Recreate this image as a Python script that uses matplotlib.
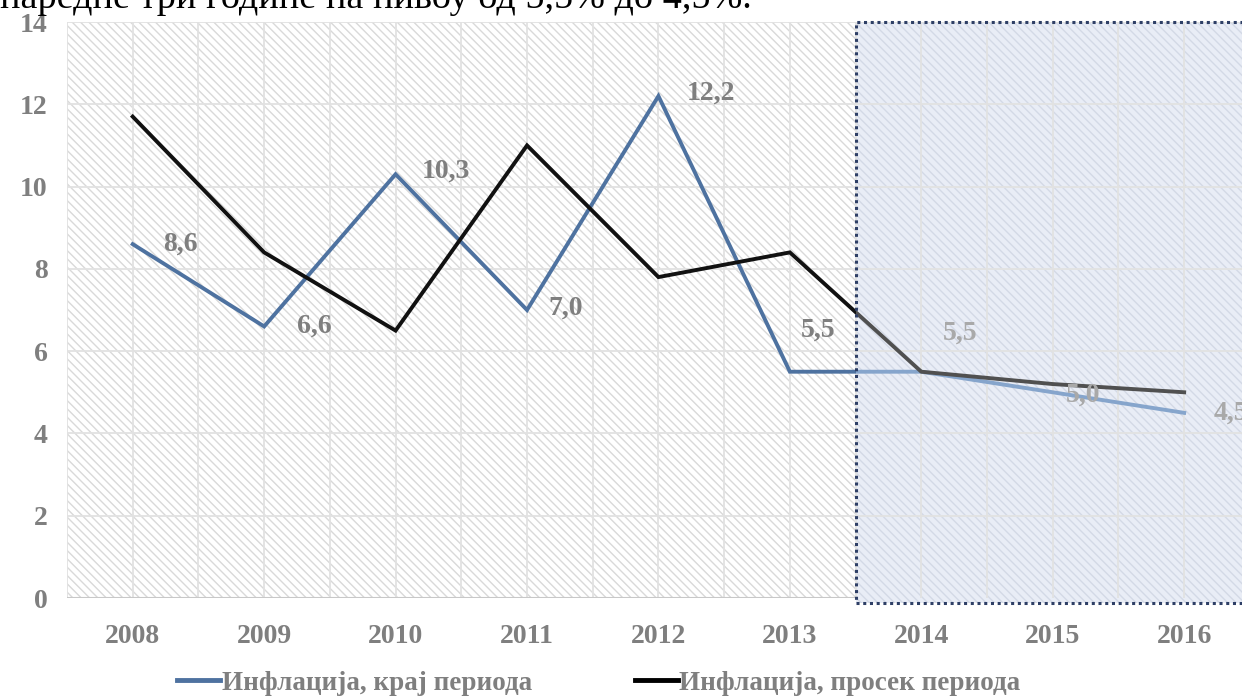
import numpy as np
import matplotlib.pyplot as plt
from matplotlib.patches import Rectangle
from matplotlib.lines import Line2D

# Data
years = ['2008', '2009', '2010', '2011', '2012', '2013', '2014', '2015', '2016']
end_period = [8.6, 6.6, 10.3, 7.0, 12.2, 5.5, 5.5, 5.0, 4.5]
avg_period = [11.7, 8.4, 6.5, 11.0, 7.8, 8.4, 5.5, 5.2, 5.0]
end_labels = ['8,6', '6,6', '10,3', '7,0', '12,2', '5,5', '5,5', '5,0', '4,5']
legend_labels = ['Инфлација, крај периода', 'Инфлација, просек периода']
y_ticks = [0, 2, 4, 6, 8, 10, 12, 14]

serif = ['Liberation Serif', 'DejaVu Serif']
plt.rcParams['hatch.linewidth'] = 1.0

fig = plt.figure(figsize=(12.42, 6.98), dpi=100)
ax = fig.add_axes([67 / 1242, 100 / 698, 1175 / 1242, 576 / 698])
x = np.arange(len(years))
split = 5.5
xmax = 8.44

ax.set_xlim(-0.5, xmax)
ax.set_ylim(0, 14)

# hatched backgrounds
ax.add_patch(Rectangle((-0.5, 0), split + 0.5, 14, facecolor='white', edgecolor='#d9d9d9',
                       linewidth=0, hatch='\\\\\\\\', zorder=0))
ax.add_patch(Rectangle((split, -0.12), 4, 14.12, facecolor='#e9edf6', edgecolor='#d3d9e6',
                       linewidth=0, hatch='\\\\\\\\', zorder=0, clip_on=False))

# grid
for gx in np.arange(-0.5, 9, 0.5):
    ax.axvline(gx, color='#e2e2e2', lw=1.3, zorder=0.5)
for gy in y_ticks[1:]:
    ax.axhline(gy, color='#e2e2e2', lw=1.3, zorder=0.5)
ax.axhline(0, xmax=(split + 0.5) / (xmax + 0.5), color='#c8c8c8', lw=1.5, zorder=0.6)

# forecast frame
ax.add_patch(Rectangle((split, -0.12), 4, 14.12, facecolor='none', edgecolor='#2e3f66',
                       linewidth=2.2, linestyle=(0, (1, 1.2)), zorder=4, clip_on=False))

l1, = ax.plot(x, end_period, color='#4e72a0', lw=2.8, zorder=3, solid_joinstyle='miter')
l1.set_clip_path(Rectangle((-1, -1), split + 1, 17, transform=ax.transData))
l2, = ax.plot(x, end_period, color='#86a5cc', lw=2.8, zorder=3)
l2.set_clip_path(Rectangle((split, -1), 5, 17, transform=ax.transData))
l3, = ax.plot(x, avg_period, color='#111111', lw=2.8, zorder=3, solid_joinstyle='miter')
l3.set_clip_path(Rectangle((-1, -1), split + 1, 17, transform=ax.transData))
l4, = ax.plot(x, avg_period, color='#505050', lw=2.8, zorder=3)
l4.set_clip_path(Rectangle((split, -1), 5, 17, transform=ax.transData))

# data labels
offsets = [(34, 0), (36, 0), (36, 2), (28, 1), (38, 2), (20, 30), (28, 28), (22, -2), (34, 0)]
for i, (lab, off) in enumerate(zip(end_labels, offsets)):
    col = '#7f7f7f' if i < 6 else '#a9a9a9'
    ax.annotate(lab, (x[i], end_period[i]), xytext=off, textcoords='offset points',
                ha='center', va='center', fontsize=20, fontweight='bold', color=col,
                family=serif, zorder=5, annotation_clip=False)

ax.set_xticks(x)
ax.set_xticklabels(years)
ax.set_yticks(y_ticks)
ax.tick_params(length=0)
ax.tick_params(axis='x', pad=19)
ax.tick_params(axis='y', pad=14)
for lab in ax.get_xticklabels() + ax.get_yticklabels():
    lab.set_fontsize(20)
    lab.set_fontweight('bold')
    lab.set_color('#7f7f7f')
    lab.set_family(serif)
for s in ax.spines.values():
    s.set_visible(False)

handles = [Line2D([], [], color='#4e72a0', lw=3.5), Line2D([], [], color='black', lw=3.5)]
leg = fig.legend(handles, legend_labels, loc='center', bbox_to_anchor=(0.482, 15 / 698),
                 ncol=2, frameon=False, handlelength=1.6, handletextpad=0.05, columnspacing=3.8,
                 prop={'family': serif, 'weight': 'bold', 'size': 19.5})
for t in leg.get_texts():
    t.set_color('#7f7f7f')

fig.text(0.0, 1 - 8 / 698, 'наредне три године на нивоу од 5,5% до 4,5%.', fontsize=27.5,
         family=serif, color='black', va='baseline', ha='left')

fig.savefig('out.png', dpi=100)
